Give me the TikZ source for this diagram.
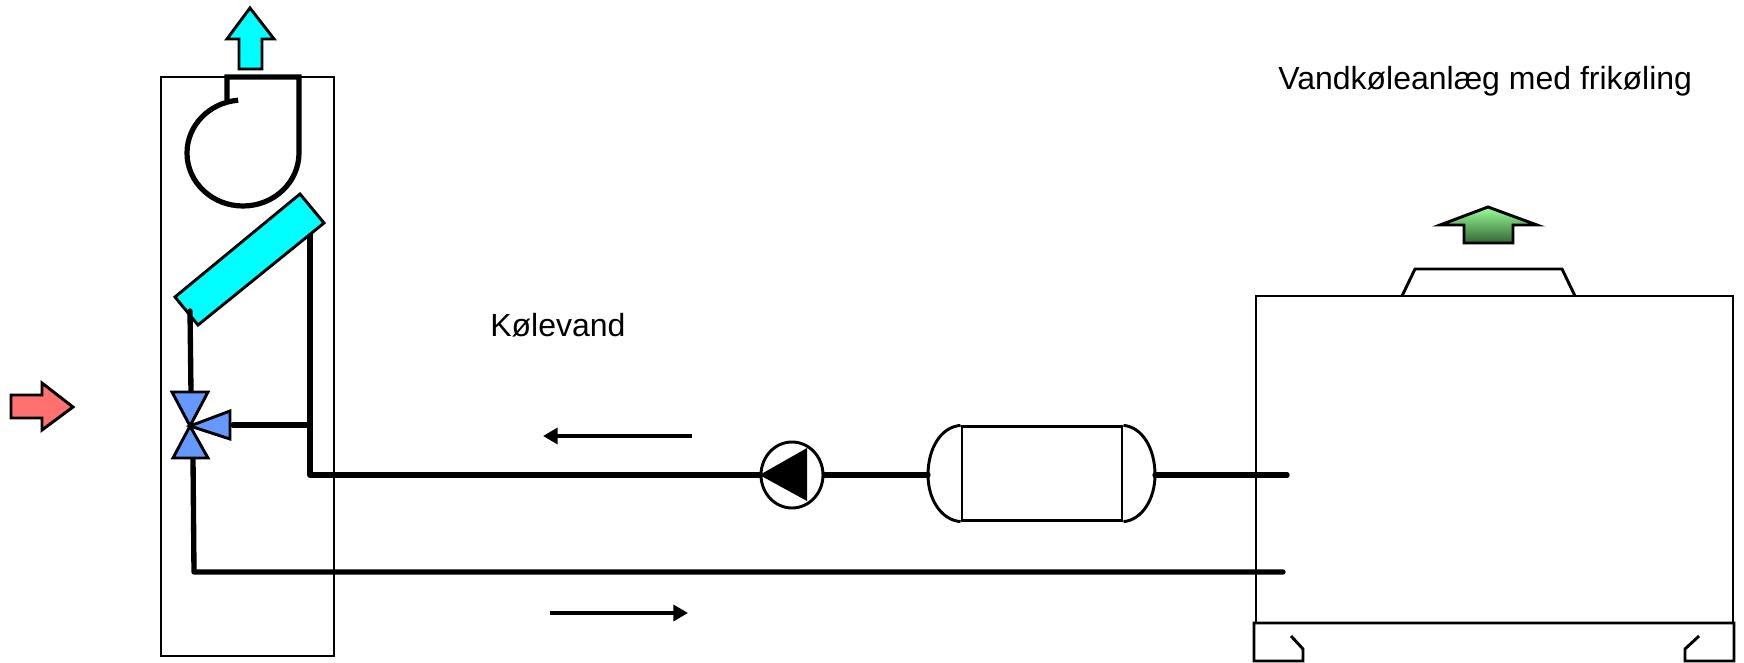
\documentclass[tikz,border=0pt]{standalone}
\usepackage{fontspec}
\setmainfont{Liberation Sans}
\usepackage{tikz}
\usetikzlibrary{arrows.meta,shapes.geometric}

\begin{document}
\begin{tikzpicture}[x=0.75pt, y=-0.75pt,
  thinline/.style={draw, line width=2.2pt, line join=miter},
  pipe/.style={draw, line width=4pt, line join=round, line cap=round},
  housing/.style={draw, line width=3.9pt, line join=miter},
  flowarrow/.style={draw, line width=2.2pt, line join=miter, miter limit=10},
  valve/.style={draw, fill=valveblue, line width=2.2pt, line join=miter},
  dirarrow/.style={line width=3.6pt, -{Triangle[length=11pt,width=12pt]}},
  label/.style={anchor=base west, inner sep=0pt, font=\fontsize{24}{28}\selectfont}]
  \definecolor{valveblue}{HTML}{6699FF}
  \definecolor{airred}{HTML}{FF7070}
  \definecolor{aqua}{HTML}{00FFFF}
  \definecolor{ventlight}{HTML}{99FF99}
  \definecolor{ventdark}{HTML}{336633}
  \useasboundingbox (0,0) rectangle (1744,663);

  % points on the pipes
  \coordinate (coilpipe) at (310,233);
  \coordinate (tee) at (310,425);
  \coordinate (elbow) at (310,475);
  \coordinate (branch) at (233,425);
  \coordinate (mixtop) at (190,311);
  \coordinate (mixin) at (191,392);
  \coordinate (mixout) at (193,458);
  \coordinate (retelbow) at (194,572);
  \coordinate (retend) at (1283,572);
  \coordinate (supend) at (1287,475);
  \coordinate (capleft) at (928,475);
  \coordinate (capright) at (1155,475);
  \coordinate (mix) at (190,426);

  % air handling unit
  \draw[thinline] (161,77) rectangle (334,656);
  \draw[flowarrow, fill=aqua] (250,8) -- (274,39) -- (262,39) -- (262,69) -- (239,69) -- (239,39) -- (227,39) -- cycle;
  \draw[housing] (227,100) -- (227,77) -- (299,77) -- (299,153) arc (0:265:56 and 53);

  % supply pipe, pump, tank
  \node[ellipse, draw, line width=2.2pt, inner sep=0pt, minimum width=46.5pt, minimum height=49.5pt] (pump) at (792,475) {};
  \node[rectangle, draw, line width=2.2pt, inner sep=0pt, minimum width=120pt, minimum height=70pt] (tank) at (1042,473.5) {};
  \draw[thinline] (tank.north west) .. controls (941,427) and (928,448) .. (capleft) .. controls (928,499) and (941,520) .. (tank.south west);
  \draw[thinline] (tank.north east) .. controls (1142,427) and (1155,448) .. (capright) .. controls (1155,499) and (1142,520) .. (tank.south east);
  \path[pipe] (coilpipe) -- (elbow) -- (pump.west);
  \path[pipe] (pump.east) -- (capleft);
  \path[pipe] (capright) -- (supend);
  \path[pipe] (branch) -- (tee);
  \fill (pump.west) -- (807,448) -- (807,501) -- cycle;

  % coil and valve
  \draw[flowarrow, fill=aqua] (300,194) -- (324,223) -- (198,325) -- (175,297) -- cycle;
  \path[pipe] (mixtop) -- (mixin);
  \path[pipe] (mixout) -- (retelbow) -- (retend);
  \draw[valve] (172,392) -- (208,392) -- (mix) -- cycle;
  \draw[valve] (173,458) -- (208,458) -- (mix) -- cycle;
  \draw[valve] (230,411) -- (230,439) -- (mix) -- cycle;

  % air arrows
  \draw[flowarrow, fill=airred] (11,395) -- (42,395) -- (42,383) -- (73,407) -- (42,430) -- (42,418) -- (11,418) -- cycle;
  \draw[flowarrow, top color=ventlight, bottom color=ventdark] (1488,207) -- (1537,225) -- (1513,225) -- (1513,243) -- (1464,243) -- (1464,225) -- (1440,225) -- cycle;

  % chiller
  \draw[thinline] (1256,623) -- (1256,296) -- (1733,296) -- (1733,623);
  \draw[thinline] (1402,296) -- (1415,269) -- (1562,269) -- (1575,296);
  \draw[thinline] (1291,636) -- (1303,649) -- (1303,661) -- (1254,661) -- (1254,623) -- (1734,623) -- (1734,661) -- (1685,661) -- (1685,649) -- (1699,636);

  % flow direction
  \coordinate (upperstart) at (692,436);
  \coordinate (upperend) at (543,436);
  \coordinate (lowerstart) at (550,613);
  \coordinate (lowerend) at (688,613);
  \draw[dirarrow] (upperstart) -- (upperend);
  \draw[dirarrow] (lowerstart) -- (lowerend);

  \node[label] (title) at (1278,90) {Vandkøleanlæg med frikøling};
  \node[label] (water) at (490,336) {Kølevand};
\end{tikzpicture}
\end{document}
